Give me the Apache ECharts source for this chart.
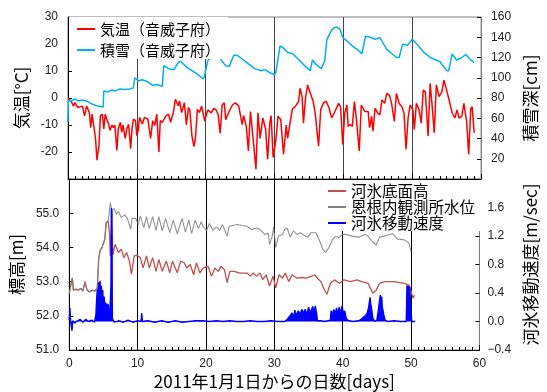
<!DOCTYPE html>
<html>
<head>
<meta charset="utf-8">
<script src="https://cdn.jsdelivr.net/npm/echarts@6/dist/echarts.min.js"></script>
<style>
  html, body { margin: 0; padding: 0; background: #fff; }
  #chart { width: 547px; height: 392px; }
</style>
</head>
<body>
<div id="chart"></div>
<script>
// [day, value] pairs
const airTemp = [
  [0, -0.2], [0.4, -1], [0.8, -3], [1.0, -1.7], [1.4, -3.5], [2.1, -3], [2.4, -6.6], [2.7, -3],
  [3.1, -5.4], [3.3, -11], [3.5, -6], [4.0, -15], [4.2, -23], [4.5, -17.5], [4.7, -6.6], [5.0, -6],
  [5.2, -11.5], [5.4, -6], [5.6, -7.8], [5.9, -9.6], [6.1, -12], [6.4, -10], [6.6, -11], [6.8, -10],
  [7.1, -19.4], [7.3, -11.5], [7.6, -9], [7.8, -12.7], [8.0, -10], [8.3, -15], [8.6, -10.9], [8.8, -9.7],
  [9.1, -18.8], [9.3, -11.5], [9.5, -7.8], [9.8, -8.4], [10.0, -14], [10.2, -12], [10.4, -7.2], [10.8, -9.6],
  [11.1, -7.2], [11.6, -7.8], [12.0, -15], [12.3, -8.4], [12.6, -10.2], [12.9, -6], [13.2, -20], [13.4, -8.4],
  [13.7, -9], [14.2, -6.6], [14.6, -6], [14.9, -9], [15.3, -5.4], [15.6, -0.5], [16.0, -2.9], [16.2, -1.1],
  [16.5, -5.4], [16.7, -6], [16.9, -1.7], [17.2, -10], [17.5, -3.5], [17.7, -4.6], [18.0, -14], [18.3, -18],
  [18.5, -15], [18.8, -4.2], [19.1, -5.4], [19.4, -3], [19.6, -3.5], [19.85, -8.5], [20.3, -4.4], [20.8, -5.5],
  [21.2, -3.8], [21.5, -4.4], [21.8, -6], [22.1, -13], [22.4, -2.5], [22.7, -1.8], [22.9, -8], [23.4, -5],
  [23.9, -2.5], [24.3, -1.8], [24.8, -3], [25.3, -9.9], [25.5, -6.5], [25.9, -10.5], [26.2, -19.6], [26.5, -5],
  [26.9, -15.4], [27.3, -26.4], [27.6, -5.5], [27.9, -15], [28.3, -7.4], [28.7, -11.5], [29.0, -22.7], [29.3, -9.5],
  [29.5, -6.5], [29.8, -22], [30.2, -15.4], [30.5, -6.8], [30.9, -8], [31.3, -20.9], [31.7, -10], [31.9, -15],
  [32.2, -10], [32.6, -4], [33.0, -3.2], [33.5, -1.3], [33.7, 3.6], [34.0, 0.5], [34.2, -9.3], [34.5, 0],
  [34.8, 4.8], [35.2, 1.8], [35.6, -1.2], [35.9, -5.5], [36.4, -17.8], [36.7, -4.4], [37.1, -1.8], [37.5, -1.2],
  [37.9, -3.6], [38.3, -7.4], [38.8, -4.8], [39.3, -2], [39.6, -3.5], [39.9, -17.2], [40.2, -5.6], [40.5, -2.6],
  [40.7, -10.5], [41.0, -9.8], [41.3, -10.5], [41.6, -1.3], [41.9, -8], [42.3, -19.6], [42.6, -2.6], [43.1, -5],
  [43.6, -5], [43.8, -11], [44.1, -6.8], [44.3, -12.3], [44.6, -3.8], [45.0, -5.6], [45.3, -6.3], [45.6, -0.7],
  [46.0, -2], [46.3, 1.7], [46.7, 1], [47.0, -2], [47.4, -8.7], [47.7, 1.7], [48.1, -2], [48.5, -3.2],
  [48.8, -5.6], [49.1, -19], [49.4, -7.4], [49.7, -2.6], [50.1, -4.4], [50.3, -11.7], [50.6, -2], [51.0, -4.4],
  [51.3, -9.3], [51.6, 2.9], [51.9, 2.3], [52.3, -14.1], [52.6, 5.4], [52.9, -3.2], [53.2, -12.9], [53.5, 4.8],
  [53.9, 0.5], [54.3, 2.3], [54.6, 6.6], [55.0, 2.9], [55.4, -1.3], [55.8, -5.5], [56.2, -7.4], [56.5, -4.4],
  [56.8, -7.4], [57.2, -6.8], [57.5, -2], [57.9, -8.7], [58.2, -20.9], [58.5, -4], [58.7, -3.2], [59.0, -12.9]
];

const snowDepth = [
  [0, 56], [0.05, 78], [0.5, 77], [1, 79], [1.5, 77], [2, 78], [2.7, 77], [3.5, 74], [4.3, 72], [5.1, 71],
  [5.2, 87], [5.8, 86], [6.4, 88], [6.9, 87], [7.5, 89], [8.3, 88.5], [9.0, 89], [9.5, 90], [9.7, 100],
  [10.2, 97], [10.8, 98], [11.6, 96], [12.3, 92.5], [13.0, 93], [13.7, 91.5], [13.9, 112], [14.6, 109],
  [15.4, 108], [16.0, 115], [16.4, 116], [17.3, 110], [18.0, 107], [18.7, 104], [19.6, 99], [19.8, 101],
  [20.3, 117], [20.9, 121], [21.4, 127], [21.7, 124], [22.3, 117], [22.9, 112], [23.4, 111], [24.1, 122.5],
  [24.6, 122], [25.0, 120], [26.0, 115], [27.1, 109], [28.1, 107], [28.6, 108], [29.3, 105], [30.0, 103],
  [30.2, 105.6], [30.8, 131.5], [31.2, 130], [31.9, 125], [32.6, 124], [33.5, 118], [34.5, 111], [35.2, 107],
  [35.5, 117.6], [35.9, 114], [36.8, 109], [37.3, 117], [37.6, 138], [38.3, 147], [38.7, 149.5], [39.0, 150],
  [39.5, 148], [39.9, 140], [40.4, 137], [41.2, 132], [42.2, 127], [42.7, 123.5], [43.2, 141], [43.9, 140],
  [44.6, 138], [45.3, 139.6], [46.3, 128], [47.0, 124], [47.7, 120], [48.1, 120], [48.6, 133], [49.3, 132],
  [50.0, 138], [50.7, 133], [51.7, 125], [52.6, 120], [54.0, 116], [55.0, 107], [55.3, 107], [55.8, 123.5],
  [56.4, 117.6], [57.1, 119.5], [57.8, 123], [58.5, 117.6], [59.0, 115]
];

const iceBottom = [
  [0, 52.65], [0.3, 52.97], [0.45, 53.11], [0.6, 52.75], [1.0, 52.78], [1.3, 52.75], [1.7, 52.8], [2.0, 52.72],
  [2.3, 53.0], [2.6, 52.75], [3.0, 52.7], [3.4, 52.75], [3.7, 52.72], [4.1, 52.8], [4.3, 53.65], [4.5, 53.9],
  [4.8, 54.0], [5.2, 54.24], [5.4, 54.72], [5.7, 54.77], [5.9, 54.4], [6.0, 53.75], [6.2, 54.53], [6.4, 53.78],
  [6.7, 54.09], [7.2, 53.85], [7.6, 53.95], [8.0, 53.7], [8.4, 53.85], [8.8, 53.6], [9.1, 53.21], [9.5, 53.75],
  [9.9, 53.77], [10.4, 53.7], [10.8, 53.4], [11.3, 53.75], [11.7, 53.4], [12.2, 53.7], [12.7, 53.3], [13.1, 53.65],
  [13.6, 53.3], [14.2, 53.6], [14.7, 53.26], [15.1, 53.6], [15.8, 53.26], [16.3, 53.6], [16.8, 53.55], [17.2, 53.4],
  [17.7, 53.5], [18.2, 53.2], [18.6, 53.55], [19.1, 53.25], [19.6, 53.4], [20.3, 53.45], [20.8, 53.16], [21.3, 53.4],
  [21.8, 53.3], [22.2, 53.45], [22.7, 53.35], [23.1, 52.97], [23.5, 53.3], [24.1, 53.3], [25.0, 53.25], [26.0, 53.25],
  [26.5, 53.16], [26.9, 53.25], [27.4, 53.16], [27.9, 53.25], [28.3, 53.06], [28.8, 53.2], [29.3, 52.87], [29.8, 53.16],
  [30.2, 52.82], [30.7, 53.2], [31.2, 53.1], [31.6, 53.25], [32.1, 53.0], [32.6, 53.2], [33.3, 53.1], [34.0, 53.12],
  [34.7, 53.1], [35.4, 53.15], [35.9, 53.2], [36.3, 53.1], [36.8, 53.0], [37.3, 52.77], [37.7, 52.63], [38.2, 52.95],
  [38.8, 53.05], [39.5, 52.95], [40.2, 53.05], [41.1, 53.0], [42.1, 53.05], [42.8, 53.0], [43.7, 52.95], [44.4, 52.66],
  [44.9, 52.75], [45.4, 52.95], [46.1, 53.0], [47.5, 53.0], [49.0, 52.95], [49.7, 52.9], [49.9, 52.78], [50.3, 52.51],
  [50.5, 52.6]
];

const waterLevel = [
  [0, 52.65], [0.3, 52.97], [0.45, 53.11], [0.6, 52.75], [1.0, 52.78], [1.3, 52.75], [1.7, 52.8], [2.0, 52.72],
  [2.3, 53.0], [2.6, 52.75], [3.0, 52.7], [3.4, 52.75], [3.7, 52.72], [4.1, 52.8], [4.3, 53.65], [4.5, 53.9],
  [4.8, 54.0], [5.2, 54.24], [5.4, 54.72], [5.7, 54.77], [6.0, 55.31], [6.2, 55.11], [6.6, 55.13], [6.9, 54.97],
  [7.2, 55.05], [7.6, 54.87], [8.1, 54.95], [8.5, 54.85], [9.0, 54.53], [9.2, 54.85], [9.7, 54.85], [10.1, 54.67],
  [10.4, 54.92], [10.9, 54.58], [11.3, 54.9], [11.7, 54.55], [12.2, 54.9], [12.7, 54.5], [13.1, 54.9], [13.6, 54.48],
  [14.1, 54.85], [14.7, 54.43], [15.2, 54.8], [15.8, 54.4], [16.5, 54.85], [17.0, 54.45], [17.5, 54.8], [17.9, 54.4],
  [18.4, 54.8], [18.9, 54.55], [19.3, 54.75], [19.6, 54.6], [20.1, 54.5], [20.5, 54.7], [21.0, 54.5], [21.5, 54.6],
  [22.0, 54.5], [22.4, 54.67], [23.1, 54.33], [23.4, 54.62], [24.6, 54.67], [25.3, 54.64], [26.0, 54.62], [26.7, 54.52],
  [27.4, 54.57], [27.9, 54.52], [28.6, 54.38], [29.1, 54.42], [29.3, 54.09], [29.7, 54.33], [29.9, 54.6], [30.2, 54.0],
  [30.6, 54.33], [31.2, 54.38], [31.5, 54.52], [31.9, 54.56], [32.3, 54.3], [32.8, 54.48], [33.3, 54.38], [33.8, 54.43],
  [34.5, 54.33], [34.9, 54.3], [35.4, 54.43], [36.1, 54.43], [36.6, 54.2], [37.1, 53.94], [37.5, 53.85], [38.0, 54.0],
  [38.5, 54.23], [39.0, 54.33], [39.4, 54.28], [40.0, 54.38], [40.4, 54.38], [41.4, 54.33], [42.3, 54.3], [43.3, 54.38],
  [43.7, 54.33], [44.2, 54.2], [44.9, 54.07], [45.4, 54.3], [46.6, 54.36], [47.3, 54.4], [48.0, 54.25], [49.0, 54.22],
  [49.7, 54.12], [50.0, 53.87]
];

const iceSpeed = [
  [0, 0.02], [0.1, 0.19], [0.2, 0.0], [0.3, 0.02], [0.4, -0.13], [0.5, 0.01], [0.8, -0.02], [1.2, 0.01],
  [1.6, 0.03], [2.0, -0.01], [2.4, 0.03], [2.8, 0.0], [3.3, 0.02], [3.7, -0.01], [3.9, 0.1], [4.0, 0.3],
  [4.1, 0.45], [4.2, 0.2], [4.3, 0.55], [4.4, 0.3], [4.5, 0.57], [4.6, 0.35], [4.7, 0.5], [4.8, 0.3],
  [4.9, 0.44], [5.0, 0.25], [5.1, 0.35], [5.2, 0.2], [5.3, 0.27], [5.4, 0.15], [5.5, 0.25], [5.6, 0.18],
  [5.7, 0.24], [5.8, 0.1], [5.9, 0.03], [6.0, 0.02], [6.1, 0.5], [6.15, 1.59], [6.25, 1.55], [6.3, 0.04],
  [6.6, -0.01], [7.2, 0.01], [7.9, -0.01], [8.6, 0.02], [9.3, -0.01], [10.0, 0.01], [10.5, 0.0], [10.6, 0.12],
  [10.7, 0.0], [11.5, 0.01], [12.5, -0.01], [13.5, 0.01], [14.5, -0.01], [15.5, 0.01], [16.5, -0.01], [17.5, 0.0],
  [18.5, 0.01], [19.5, 0.01], [20.5, 0.0], [21.5, 0.01], [22.5, 0.0], [23.5, 0.01], [24.5, 0.0], [25.5, 0.0],
  [26.5, 0.01], [27.5, 0.0], [28.5, 0.0], [29.5, 0.01], [30.5, 0.0], [31.5, 0.0], [31.8, 0.02], [32.3, 0.08],
  [32.6, 0.12], [32.8, 0.05], [33.0, 0.16], [33.2, 0.08], [33.5, 0.15], [33.8, 0.1], [34.0, 0.17], [34.3, 0.12],
  [34.5, 0.17], [34.8, 0.1], [35.0, 0.2], [35.3, 0.12], [35.6, 0.21], [35.8, 0.15], [36.0, 0.22], [36.2, 0.1],
  [36.3, 0.01], [36.8, 0.01], [37.3, 0.0], [37.8, 0.01], [38.2, 0.02], [38.3, 0.15], [38.5, 0.1], [38.7, 0.17],
  [38.9, 0.1], [39.1, 0.19], [39.3, 0.12], [39.5, 0.2], [39.7, 0.1], [39.9, 0.22], [40.1, 0.12], [40.3, 0.15],
  [40.5, 0.05], [40.7, 0.02], [41.4, 0.0], [42.3, 0.01], [42.7, 0.03], [43.0, 0.06], [43.3, 0.08], [43.6, 0.12],
  [43.8, 0.2], [44.0, 0.34], [44.1, 0.25], [44.2, 0.2], [44.4, 0.05], [44.7, 0.0], [45.0, 0.02], [45.2, 0.15],
  [45.4, 0.3], [45.5, 0.37], [45.6, 0.3], [45.7, 0.35], [45.8, 0.2], [46.0, 0.1], [46.2, 0.02], [46.6, 0.0],
  [47.5, 0.01], [48.5, 0.0], [49.3, 0.0], [49.4, 0.5], [49.6, 0.5], [49.8, 0.48], [50.0, 0.46], [50.1, 0.0],
  [50.3, 0.01], [50.6, 0.0]
];

const names = ['気温（音威子府）', '積雪（音威子府）', '河氷底面高', '恩根内観測所水位', '河氷移動速度'];
const colors = ['#ff0000', '#00b0f0', '#c0504d', '#808080', '#0000ff'];

const numFont = { fontFamily: 'Liberation Sans, Arial, sans-serif', fontSize: 12, color: '#222' };
const jpFont = { fontFamily: 'Noto Sans CJK JP', color: '#000' };

function xAxisFor(gridIndex, showLabels) {
  return {
    gridIndex, type: 'value', min: 0, max: 60, interval: 10,
    axisLine: { show: true, onZero: false, lineStyle: { color: '#000' } },
    axisTick: { show: true, inside: true, length: 5, lineStyle: { color: '#000' } },
    minorTick: { show: true, splitNumber: 10, length: 3, lineStyle: { color: '#000' } },
    axisLabel: Object.assign({ show: showLabels, margin: 8 }, numFont),
    splitLine: { show: true, lineStyle: { color: gridIndex === 0 ? '#444' : '#000', width: 1 } },
    name: showLabels ? '2011年1月1日からの日数[days]' : '',
    nameLocation: 'middle', nameGap: 23,
    nameTextStyle: Object.assign({ fontSize: 17 }, jpFont)
  };
}

function yAxisFor(gridIndex, position, min, max, interval, name, nameGap, labelOpts, lineColor) {
  return {
    gridIndex, position, type: 'value', min, max, interval,
    axisLine: { show: true, onZero: false, lineStyle: { color: lineColor } },
    axisTick: { show: true, inside: true, length: 4, lineStyle: { color: '#000' } },
    splitLine: { show: false },
    axisLabel: Object.assign({ margin: 10 }, numFont, labelOpts),
    name, nameLocation: 'middle', nameRotate: 90, nameGap,
    nameTextStyle: Object.assign({ fontSize: 17 }, jpFont)
  };
}

const chart = echarts.init(document.getElementById('chart'), null, { renderer: 'canvas' });
chart.setOption({
  animation: false,
  backgroundColor: '#fff',
  grid: [
    { left: 68, top: 17, width: 424, height: 162, show: true, borderColor: '#808080', borderWidth: 1 },
    { left: 68, top: 179, width: 424, height: 171, show: true, borderColor: '#808080', borderWidth: 1 }
  ],
  legend: [
    {
      data: names.slice(0, 2), orient: 'vertical', left: 69, top: 17,
      icon: 'rect', itemWidth: 18, itemHeight: 2, itemGap: 3, padding: [3, 8, 0, 8],
      backgroundColor: '#fff', selectedMode: false,
      textStyle: Object.assign({ fontSize: 15, lineHeight: 18 }, jpFont)
    },
    {
      data: names.slice(2), orient: 'vertical', left: 324, top: 180,
      icon: 'rect', itemWidth: 18, itemHeight: 2, itemGap: 0, padding: [3, 6, 0, 4],
      backgroundColor: '#fff', selectedMode: false,
      textStyle: Object.assign({ fontSize: 15.5, lineHeight: 16 }, jpFont)
    }
  ],
  xAxis: [xAxisFor(0, false), xAxisFor(1, true)],
  yAxis: [
    yAxisFor(0, 'left', -30, 30, 10, '気温[°C]', 32, { showMinLabel: false }, '#000'),
    yAxisFor(0, 'right', 0, 160, 20, '積雪深[cm]', 35, { showMinLabel: false }, '#808080'),
    yAxisFor(1, 'left', 51, 56, 1, '標高[m]', 36,
      { showMaxLabel: false, formatter: (v) => v.toFixed(1) }, '#000'),
    yAxisFor(1, 'right', -0.4, 2.0, 0.4, '河氷移動速度[m/sec]', 36,
      { showMaxLabel: false, margin: 8, formatter: (v) => v.toFixed(1).replace('-', '−') }, '#808080')
  ],
  series: [
    { name: names[0], type: 'line', xAxisIndex: 0, yAxisIndex: 0, data: airTemp, showSymbol: false,
      lineStyle: { color: colors[0], width: 1.5 }, itemStyle: { color: colors[0] } },
    { name: names[1], type: 'line', xAxisIndex: 0, yAxisIndex: 1, data: snowDepth, showSymbol: false,
      lineStyle: { color: colors[1], width: 1.5 }, itemStyle: { color: colors[1] } },
    { name: names[2], type: 'line', xAxisIndex: 1, yAxisIndex: 2, data: iceBottom, showSymbol: false,
      lineStyle: { color: colors[2], width: 1.3 }, itemStyle: { color: colors[2] } },
    { name: names[3], type: 'line', xAxisIndex: 1, yAxisIndex: 2, data: waterLevel, showSymbol: false,
      lineStyle: { color: colors[3], width: 1.1, opacity: 0.85 }, itemStyle: { color: colors[3] } },
    { name: names[4], type: 'line', xAxisIndex: 1, yAxisIndex: 3, data: iceSpeed, showSymbol: false,
      lineStyle: { color: colors[4], width: 1.4 }, itemStyle: { color: colors[4] },
      areaStyle: { color: colors[4], opacity: 1 } }
  ]
});
</script>
</body>
</html>
